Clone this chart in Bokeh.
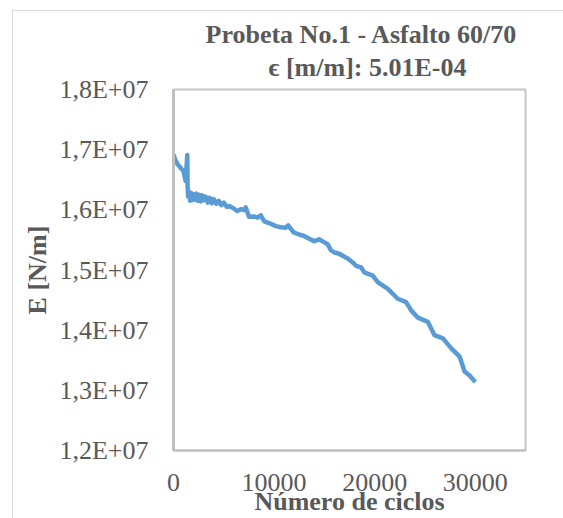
from bokeh.plotting import figure
from bokeh.models import Range1d, FixedTicker, Title, InlineStyleSheet
from bokeh.embed import file_html
from bokeh.resources import INLINE

# ---- data ----
cycles = [0, 150, 400, 700, 1000, 1200, 1300, 1370, 1400, 1450, 1550, 1650, 1750, 1850,
          1950, 2100, 2250, 2400, 2550, 2700, 2850, 3000, 3200, 3400, 3600, 3800, 4000,
          4250, 4500, 4750, 5000, 5300, 5600, 6000, 6350, 6700, 7000, 7180, 7510, 8000,
          8350, 8680, 9010, 9500, 10170, 10700, 11170, 11400, 11990, 12500, 12990, 13500,
          13990, 14490, 15000, 15320, 15650, 15980, 16480, 16820, 17320, 17820, 18150,
          18640, 18970, 19810, 20310, 21310, 22300, 23130, 23630, 24300, 25290, 25950,
          26790, 27620, 28450, 28940, 29440, 30010]
modulus = [1.692e7, 1.684e7, 1.676e7, 1.670e7, 1.664e7, 1.648e7, 1.672e7, 1.691e7, 1.640e7,
           1.622e7, 1.630e7, 1.615e7, 1.628e7, 1.616e7, 1.626e7, 1.617e7, 1.627e7, 1.615e7,
           1.625e7, 1.614e7, 1.624e7, 1.616e7, 1.622e7, 1.612e7, 1.620e7, 1.611e7, 1.618e7,
           1.610e7, 1.615e7, 1.608e7, 1.612e7, 1.605e7, 1.606e7, 1.602e7, 1.598e7, 1.601e7,
           1.5995e7, 1.604e7, 1.5885e7, 1.589e7, 1.587e7, 1.591e7, 1.581e7, 1.578e7, 1.573e7,
           1.571e7, 1.5704e7, 1.574e7, 1.562e7, 1.559e7, 1.5565e7, 1.552e7, 1.548e7, 1.551e7,
           1.546e7, 1.543e7, 1.533e7, 1.529e7, 1.527e7, 1.5236e7, 1.519e7, 1.5126e7, 1.507e7,
           1.5044e7, 1.4962e7, 1.4906e7, 1.4797e7, 1.4687e7, 1.4522e7, 1.4467e7, 1.4329e7,
           1.4209e7, 1.4138e7, 1.3917e7, 1.3863e7, 1.3698e7, 1.3561e7, 1.3314e7, 1.3248e7,
           1.3137e7]

x_ticks = [0, 10000, 20000, 30000]
y_ticks = [12000000, 13000000, 14000000, 15000000, 16000000, 17000000, 18000000]
y_tick_labels = ["1,2E+07", "1,3E+07", "1,4E+07", "1,5E+07", "1,6E+07", "1,7E+07", "1,8E+07"]

title_line1 = "Probeta No.1 - Asfalto 60/70"
title_line2 = "\u03f5 [m/m]: 5.01E-04"
x_title = "Número de ciclos"
y_title = "E [N/m]"

FONT = "Liberation Serif"
GREY = "#595959"

W, H = 563, 518
p = figure(width=W, height=H, output_backend="svg", toolbar_location=None,
           x_range=Range1d(0, 35000), y_range=Range1d(12000000, 18000000),
           min_border_left=173, min_border_right=38, min_border_top=89, min_border_bottom=65)

p.line(cycles, modulus, line_color="#5B9BD5", line_width=4.5, line_join="round")

p.xgrid.visible = False
p.ygrid.visible = False
p.outline_line_color = "#c6c6c6"
p.outline_line_width = 2

for ax in (p.xaxis[0], p.yaxis[0]):
    ax.major_tick_line_color = None
    ax.minor_tick_line_color = None
    ax.major_label_text_font = FONT
    ax.major_label_text_font_size = "26px"
    ax.major_label_text_color = GREY
    ax.axis_line_color = "#bfbfbf"
    ax.axis_line_width = 2
    ax.axis_label_text_font = FONT
    ax.axis_label_text_font_size = "26px"
    ax.axis_label_text_font_style = "bold"
    ax.axis_label_text_color = GREY

p.xaxis.ticker = FixedTicker(ticks=x_ticks)
p.xaxis.major_label_standoff = 17
p.xaxis.axis_label = x_title
p.xaxis.axis_label_standoff = -7

p.yaxis.ticker = FixedTicker(ticks=y_ticks)
p.yaxis.major_label_overrides = dict(zip(y_ticks, y_tick_labels))
p.yaxis.major_label_standoff = 19
p.yaxis.axis_line_width = 3
p.yaxis.axis_label = y_title
p.yaxis.axis_label_standoff = 4

# two-line chart title: the first one added sits closest to the plot
for txt, off, so in ((title_line2, 95, 16), (title_line1, 32, -12)):
    p.add_layout(Title(text=txt, align="left", offset=off, standoff=so,
                       text_font=FONT, text_font_size="26px", text_font_style="bold",
                       text_color=GREY), "above")

# light outer chart-area border
p.stylesheets = [InlineStyleSheet(css="""
:host::after {
  content: ""; position: absolute; left: 12px; top: 10px; right: -20px; bottom: -20px;
  border-left: 1px solid #d9d9d9; border-top: 1px solid #d9d9d9;
  pointer-events: none; z-index: 10;
}
""")]

open("out.html", "w").write(file_html(p, INLINE))
